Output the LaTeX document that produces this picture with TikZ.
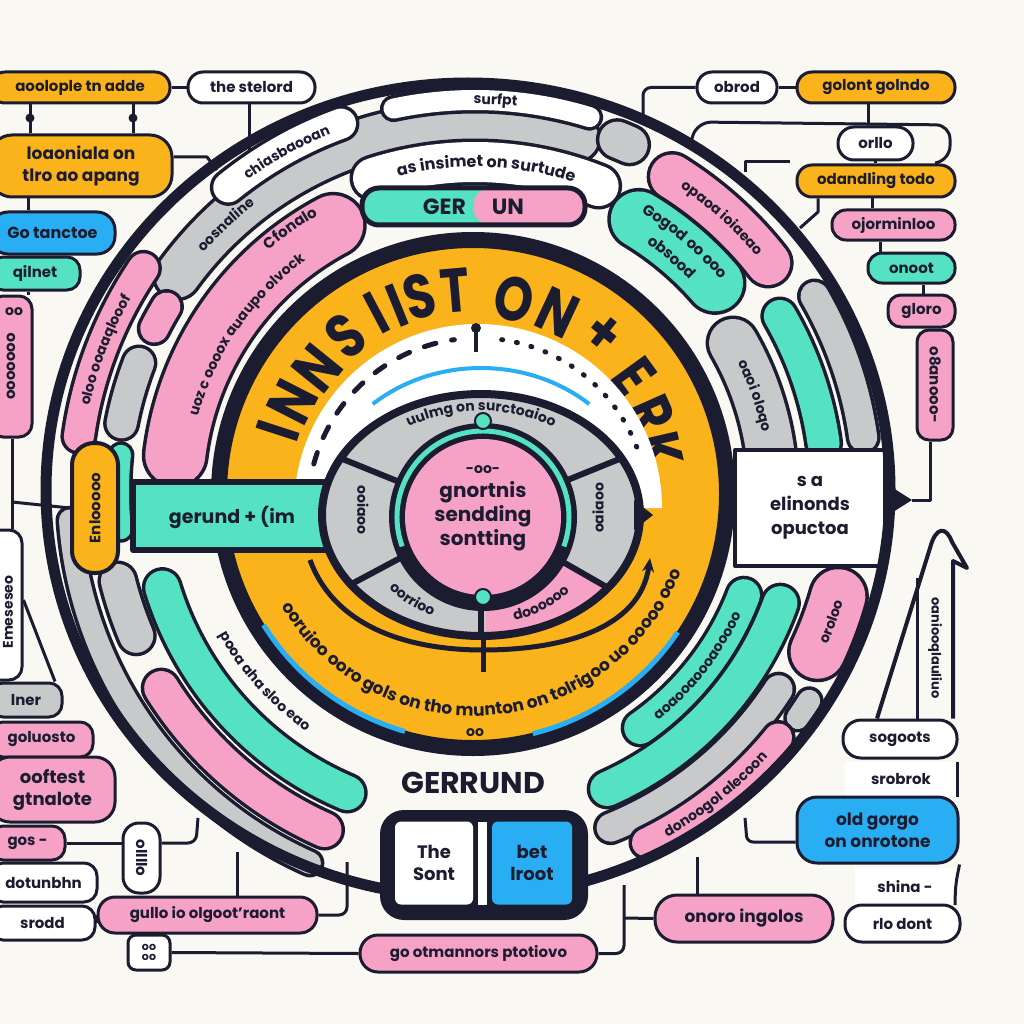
\documentclass[tikz,border=0pt]{standalone}
\usepackage{fontspec}
\setmainfont{Poppins}
\usetikzlibrary{decorations.text,arrows.meta}
\definecolor{ink}{HTML}{1B1C30}
\definecolor{yel}{HTML}{FBB31B}
\definecolor{pnk}{HTML}{F6A2C6}
\definecolor{tea}{HTML}{55E2C3}
\definecolor{blu}{HTML}{2AAEF3}
\definecolor{gry}{HTML}{C8C9CB}
\definecolor{bg}{HTML}{FAF8F2}
\newcommand\arcband[5]{%
  \draw[ink, line width={#4+7}, line cap=round] ([shift={(#1:#3)}]C) arc[start angle=#1, end angle=#2, radius=#3];%
  \draw[#5, line width=#4, line cap=round] ([shift={(#1:#3)}]C) arc[start angle=#1, end angle=#2, radius=#3];}
\tikzset{
  box/.style={draw=ink, line width=3pt, rounded corners=13pt, text=ink, align=center, inner sep=1pt, font=\bfseries\fontsize{15}{18}\selectfont},
  conn/.style={draw=ink, line width=3pt},
  atext/.style 2 args={decorate, decoration={text along path, text align=center, text color=ink, text={|\bfseries\fontsize{#2}{#2}\selectfont|#1}}},
  bigl/.style={text=ink, inner sep=0pt, font=\bfseries\fontsize{62}{62}\selectfont},
  lbl/.style={text=ink, inner sep=0pt, font=\bfseries\fontsize{14}{16}\selectfont},
}
\begin{document}
\begin{tikzpicture}[x=1pt, y=-1pt, line join=round]
\useasboundingbox (0,0) rectangle (1024,1024);
\fill[bg] (0,0) rectangle (1024,1024);
\coordinate (C) at (475,492);
\coordinate (C0) at (473,494);
\coordinate (F) at (481,515);
\coordinate (P) at (483,517);
\coordinate (W) at (478,508);
\coordinate (E) at (468,490);

% ---------- ring bands ----------
\arcband{216}{286}{368}{44}{gry}
\arcband{258}{287}{392}{20}{white}
\arcband{252}{292}{330}{40}{white}
\arcband{187}{242}{302}{60}{pnk}
\arcband{191}{201}{360}{30}{gry}
\arcband{207}{211}{360}{28}{pnk}
\arcband{188}{214}{400}{30}{pnk}
\arcband{174}{186}{356}{20}{tea}
\arcband{114}{176}{406}{22}{gry}
\arcband{157}{166}{368}{34}{gry}
\arcband{114}{148}{370}{34}{pnk}
\arcband{113}{163}{327}{34}{tea}
\arcband{302}{322}{372}{44}{pnk}
\arcband{292}{294}{380}{36}{gry}
\arcband{301}{319}{318}{56}{tea}
\arcband{330}{352}{298}{48}{gry}
\arcband{330}{352}{352}{32}{tea}
\arcband{330}{352}{392}{28}{gry}
\arcband{16}{25}{378}{54}{pnk}
\arcband{21}{55}{288}{32}{tea}
\arcband{20}{66}{325}{34}{tea}
\arcband{33}{68}{362}{28}{gry}
\arcband{32}{35}{394}{22}{gry}
\arcband{39}{64}{390}{28}{pnk}

% ---------- ring texts ----------
\path[atext={oloo ooaaqlooof}{14}] ([shift={(188:395)}]C) arc[start angle=188, end angle=214, radius=395];
\path[atext={oosnaline}{14}] ([shift={(216:362)}]C) arc[start angle=216, end angle=238, radius=362];
\path[atext={Cfonalo}{15}] ([shift={(226:318)}]C) arc[start angle=226, end angle=244, radius=318];
\path[atext={uoz c oooox auaupo olvock}{14}] ([shift={(189:287)}]C) arc[start angle=189, end angle=240, radius=287];
\path[atext={as insimet on surtude}{16}] ([shift={(250:325)}]C) arc[start angle=250, end angle=294, radius=325];
\path[atext={surfpt}{14}] ([shift={(262:388)}]C) arc[start angle=262, end angle=284, radius=388];
\path[atext={opaoa ioiaeao}{14}] ([shift={(299:367)}]C) arc[start angle=299, end angle=325, radius=367];
\path[atext={Gogod oo ooo}{15}] ([shift={(297:325)}]C) arc[start angle=297, end angle=323, radius=325];
\path[atext={obsood}{15}] ([shift={(297:302)}]C) arc[start angle=297, end angle=323, radius=302];
\path[atext={oaoi oloqo}{14}] ([shift={(326:293)}]C) arc[start angle=326, end angle=356, radius=293];
\path[atext={oroloo}{14}] ([shift={(30:384)}]C) arc[start angle=30, end angle=10, radius=384];
\path[atext={aoaooaoooaooooo}{14}] ([shift={(60:293)}]C) arc[start angle=60, end angle=16, radius=293];
\path[atext={donoogol alecoon}{14}] ([shift={(70:395)}]C) arc[start angle=70, end angle=33, radius=395];
\path[atext={pooa aha sloo eao}{14}] ([shift={(166:293)}]C) arc[start angle=166, end angle=110, radius=293];

% ---------- left pill ----------
\node[box, fill=yel, line width=4pt, rounded corners=22pt, minimum width=46, minimum height=130] (enl) at (95,508) {\rotatebox{90}{Enlooooo}};

% ---------- right white box ----------
\node[draw=ink, line width=4pt, fill=white, minimum width=150, minimum height=116, align=center, text=ink, font=\bfseries\fontsize{18}{24}\selectfont] (m16) at (810,508) {s a\\elinonds\\opuctoa};

% ---------- outer ring ----------
\draw[ink, line width=11] (E) ellipse[x radius=422, y radius=407];
\arcband{231}{250}{392}{30}{white}
\path[atext={chiasbaooan}{14}] ([shift={(229:386)}]C) arc[start angle=229, end angle=253, radius=386];

% ---------- GER | UN ----------
\node[draw=ink, line width=5pt, rounded corners=17pt, minimum width=223, minimum height=37, fill=tea, text=ink, font=\bfseries\fontsize{22}{22}\selectfont, path picture={\fill[pnk] (path picture bounding box.north) rectangle (path picture bounding box.south east);}] (gerun) at (473.5,206.5) {GER\hspace{26pt}UN};

% ---------- yellow disk ----------
\draw[ink, line width=16, fill=yel] (C0) circle[radius=254];
\draw[blu, line width=5] ([shift={(106:247)}]C0) arc[start angle=106, end angle=148, radius=247];
\draw[blu, line width=5] ([shift={(34:247)}]C0) arc[start angle=34, end angle=76, radius=247];
\foreach \ch/\ang/\rr [count=\i] in {I/198/205, N/207/202, N/219/200, S/231/203, I/242/205, I/248/203, S/255/205, T/265/204, O/282/199, N/295/200, +/309/205, E/324/199, R/336/195, K/347/192}
  \node[bigl, rotate=-\ang-90] (L\i) at ([shift={(\ang:\rr)}]C0) {\scalebox{0.8}[1]{\ch}};
\path[atext={ooruioo ooro gols on tho munton on tolrigoo uo ooooo ooo}{17}] ([shift={(168:222)}]C0) arc[start angle=168, end angle=2, radius=222];
\node[lbl] (oo1) at (475,733) {oo};

% white horseshoe
\fill[white] (W) -- ([shift={(186:184)}]W) arc[start angle=186, end angle=360, radius=184] -- cycle;
\draw[ink, line width=5, dash pattern=on 12pt off 16pt, line cap=round] ([shift={(195:170)}]W) arc[start angle=195, end angle=262, radius=170];
\draw[ink, line width=5, dash pattern=on 1pt off 14pt, line cap=round] ([shift={(278:170)}]W) arc[start angle=278, end angle=340, radius=170];
\draw[ink, line width=4] (476,326) -- (476,352);
\fill[ink] (476,328) circle[radius=5];
\draw[blu, line width=4] ([shift={(229:165 and 147)}]F) arc[start angle=229, end angle=311, x radius=165, y radius=147];

% teal arm reaching the flower
\draw[ink, line width=6, fill=tea] (133,482) -- (345,482) -- (345,550) -- (133,550) -- cycle;
\node[text=ink, font=\bfseries\fontsize{19}{19}\selectfont] (gtx) at (232,517) {gerund + (im};

% branch lines
\draw[ink, line width=5] (483,606) -- (483,672);
\draw[ink, line width=5] (310,560) .. controls (335,628) and (410,650) .. (483,650);
\draw[ink, line width=5, -{Stealth[length=14pt, width=12pt]}] (483,650) .. controls (560,650) and (640,630) .. (650,558);

% ---------- gray flower ----------
\fill[gry] (F) ellipse[x radius=159, y radius=121];
\fill[pnk] (F) -- ([shift={(38:159 and 121)}]F) arc[start angle=38, end angle=88, x radius=159, y radius=121] -- cycle;
\foreach \a in {208,332,145,37,90} \draw[ink, line width=6] (F) -- ([shift={(\a:159 and 121)}]F);
\draw[ink, line width=8] (F) ellipse[x radius=159, y radius=121];
\fill[ink] (P) circle[radius=94];
\draw[tea, line width=5] ([shift={(160:86)}]P) arc[start angle=160, end angle=380, radius=86];
\fill[pnk] (P) circle[radius=78];
\draw[ink, line width=2, fill=tea] (483,421) circle[radius=8];
\draw[ink, line width=2, fill=tea] (483,597) circle[radius=8];
\fill[ink] (634,500) -- (653,515) -- (634,530) -- cycle;
\path[atext={uulmg on surctoaioo}{14}] ([shift={(212:136 and 104)}]F) arc[start angle=212, end angle=328, x radius=136, y radius=104];
\path[atext={oorrioo}{14}] ([shift={(152:124 and 110)}]F) arc[start angle=152, end angle=100, x radius=124, y radius=110];
\path[atext={doooooo}{14}] ([shift={(82:124 and 110)}]F) arc[start angle=82, end angle=36, x radius=124, y radius=110];
\node[lbl, rotate=-90] (lobeL) at (363,510) {ooiaoo};
\node[lbl, rotate=90] (lobeR) at (598,508) {oaiaoo};
\node[text=ink, align=center, font=\bfseries\fontsize{20}{24}\selectfont] (ctx) at (483,508) {{\fontsize{14}{14}\selectfont -oo-}\\gnortnis\\sendding\\sontting};

% ---------- GERRUND ----------
\node[text=ink, font=\bfseries\fontsize{30}{30}\selectfont] (gt) at (473,783) {GERRUND};
\node[fill=ink, rounded corners=24pt, minimum width=208, minimum height=110] (gbox) at (484,865) {};
\node[fill=white, rounded corners=6pt, minimum width=78, minimum height=83, align=center, text=ink, font=\bfseries\fontsize{18}{22}\selectfont] (gl) at (434,863) {The\\Sont};
\node[fill=blu, rounded corners=6pt, minimum width=80, minimum height=83, align=center, text=ink, font=\bfseries\fontsize{18}{22}\selectfont] (gr) at (532,863) {bet\\lroot};
\fill[white] (478,822) rectangle (487,905);

% ---------- left column ----------
\coordinate (k2) at (249,150);
\coordinate (k3) at (217,170);
\coordinate (j1) at (12,502);
\coordinate (k14) at (198,818);
\coordinate (k15) at (237,852);
\coordinate (k15b) at (347,862);
\coordinate (k17) at (624,885);
\coordinate (j2) at (624,918);
\node[box, fill=yel, minimum width=180, minimum height=31, rounded corners=15pt] (n1) at (80,87.5) {aoolople tn adde};
\node[box, fill=white, minimum width=127, minimum height=31, rounded corners=15pt] (n2) at (251.5,87.5) {the stelord};
\node[box, fill=yel, minimum width=182, minimum height=62, rounded corners=22pt, font=\bfseries\fontsize{17}{22}\selectfont] (n3) at (81,166) {loaoniala on\\tlro ao apang};
\node[box, fill=blu, minimum width=125, minimum height=42, rounded corners=18pt, font=\bfseries\fontsize{16}{18}\selectfont] (n4) at (52.5,233) {Go tanctoe};
\node[box, fill=tea, minimum width=90, minimum height=33] (n5) at (35,273.5) {qilnet};
\node[box, fill=pnk, minimum width=42, minimum height=141] (n6) at (11,366.5) {\rotatebox{90}{ooooooo}};
\node[lbl] (n6o) at (14,312) {oo};
\node[box, fill=white, minimum width=44, minimum height=150] (n7) at (0,605) {};
\node[lbl, rotate=90] (n7t) at (8,612) {Emeseseo};
\node[box, fill=gry, minimum width=72, minimum height=34] (n8) at (26,700) {lner};
\node[box, fill=pnk, minimum width=103, minimum height=35] (n9) at (41.5,739.5) {goluosto};
\node[box, fill=pnk, minimum width=125, minimum height=65, rounded corners=20pt, font=\bfseries\fontsize{18}{22}\selectfont] (n10) at (52.5,789.5) {ooftest\\gtnalote};
\node[box, fill=pnk, minimum width=75, minimum height=34] (n11) at (27.5,843) {gos -};
\node[box, fill=white, minimum width=107, minimum height=39] (n12) at (43.5,882.5) {dotunbhn};
\node[box, fill=white, minimum width=105, minimum height=34] (n13) at (42.5,923) {srodd};
\node[box, fill=white, minimum width=37, minimum height=70, rounded corners=16pt] (n14) at (141.5,858) {\rotatebox{-90}{ollllo}};
\node[box, fill=pnk, minimum width=219, minimum height=36, rounded corners=17pt] (n15) at (207.5,915) {gullo io olgoot'raont};
\node[box, fill=white, minimum width=42, minimum height=35, rounded corners=8pt, font=\bfseries\fontsize{11}{10}\selectfont] (n16) at (149,952.5) {oo\\oo};
\node[box, fill=pnk, minimum width=237, minimum height=37, rounded corners=18pt] (n17) at (478.5,953.5) {go otmannors ptotiovo};

\draw[conn] (n1) -- (n2);
\draw[conn] (n1.south -| 30,0) -- (n3.north -| 30,0);
\draw[conn] (n1.south -| 133,0) -- (n3.north -| 133,0);
\fill[ink] (30,118) circle[radius=4.5];
\fill[ink] (133,118) circle[radius=4.5];
\draw[conn] (n2.south -| 249,0) -- (k2);
\draw[conn] (n3.east |- 0,157) -- (207,157) -- (k3);
\draw[conn] (n3.south -| 28,0) -- (n4.north -| 28,0);
\draw[conn] (n5.south -| 28,0) -- (n6.north -| 28,0);
\draw[conn] (n6.south -| 12,0) -- (n7.north -| 12,0);
\draw[conn] (j1) -- (enl.west);
\draw[conn] (n7.east |- 0,600) -- (n8.north -| 55,0);
\draw[conn] (n11.east) -- (n11.east -| n14.west);
\draw[conn, rounded corners=8pt] (n14.east |- 0,843) -- (196,843) -- (k14);
\draw[conn] (n13.east) -- (n15.west);
\draw[conn] (n15.north -| 237,0) -- (k15);
\draw[conn, rounded corners=8pt] (n15.east) -- (347,915) -- (k15b);
\draw[conn] (n16.east) -- (n17.west);
\draw[conn, rounded corners=8pt] (n17.east) -- (624,953.5) -- (k17);

% ---------- right column ----------
\coordinate (k1) at (643,117);
\coordinate (kL) at (690,145);
\coordinate (kS) at (745,172);
\coordinate (kS2) at (790,162);
\coordinate (k4) at (800,228);
\coordinate (k11) at (745,818);
\coordinate (k14b) at (697,857);
\coordinate (t1) at (912,500);
\draw[conn, rounded corners=14pt] (kL) -- (697,122) -- (950,125) -- (950,160) -- (935,163);
\node[box, fill=white, minimum width=80, minimum height=31, rounded corners=15pt] (m1) at (737,87.5) {obrod};
\node[box, fill=yel, minimum width=158, minimum height=31, rounded corners=15pt] (m2) at (876,87.5) {golont golndo};
\node[box, fill=white, minimum width=75, minimum height=33, rounded corners=16pt] (m3) at (875.5,143.5) {orllo};
\node[box, fill=yel, minimum width=158, minimum height=32, rounded corners=15pt] (m4) at (876,181) {odandling todo};
\node[box, fill=pnk, minimum width=123, minimum height=30, rounded corners=14pt] (m5) at (893.5,225) {ojorminloo};
\node[box, fill=tea, minimum width=87, minimum height=30, rounded corners=14pt] (m6) at (911.5,268) {onoot};
\node[box, fill=pnk, minimum width=67, minimum height=32] (m7) at (921.5,311) {gloro};
\node[box, fill=pnk, minimum width=36, minimum height=110, rounded corners=12pt] (m8) at (935,385) {\rotatebox{-90}{o8anooo-}};
\draw[conn] (m1) -- (m2);
\draw[conn, rounded corners=8pt] (m1.west) -- (643,87.5) -- (k1);
\draw[conn] (m2.south -| 868,0) -- (m3.north -| 868,0);
\draw[conn] (m3.south -| 875,0) -- (m4.north -| 875,0);
\draw[conn] (m4.south -| 872,0) -- (m5.north -| 872,0);
\draw[conn] (m5.south -| 880,0) -- (m6.north -| 880,0);
\draw[conn] (m6.south -| 923,0) -- (m7.north -| 923,0);
\draw[conn] (kS) |- (kS2);
\draw[conn] (m4.south -| 818,0) -- (818,212) -- (k4);
\fill[ink] (893,488) -- (t1) -- (893,512) -- cycle;
\draw[conn] (t1) -- (930,500) -- (m8.south -| 930,0);

\node[box, fill=white, minimum width=114, minimum height=38, rounded corners=18pt] (m9) at (900,739) {sogoots};
\node[fill=white, text=ink, font=\bfseries\fontsize{15}{18}\selectfont, minimum width=112, minimum height=35] (m10) at (901,779.5) {srobrok};
\node[box, fill=blu, minimum width=161, minimum height=66, rounded corners=20pt, font=\bfseries\fontsize{17}{22}\selectfont] (m11) at (877.5,830) {old gorgo\\on onrotone};
\node[fill=white, text=ink, font=\bfseries\fontsize{15}{18}\selectfont, minimum width=100, minimum height=37] (m12) at (905,886.5) {shina -};
\node[box, fill=white, minimum width=115, minimum height=37, rounded corners=17pt] (m13) at (902.5,923.5) {rlo dont};
\node[box, fill=pnk, minimum width=178, minimum height=47, rounded corners=22pt, font=\bfseries\fontsize{17}{20}\selectfont] (m14) at (744,918.5) {onoro ingolos};
\draw[conn, rounded corners=8pt] (m10.north east) -- (m10.south east);
\draw[conn, rounded corners=10pt] (m11.south east) -- (m12.east) -- (m12.south east);
\draw[conn, rounded corners=6pt] (m11.west |- 0,842) -- (747,842) -- (k11);
\draw[conn] (m14.west) -- (j2);
\draw[conn] (m14.north -| 697,0) -- (k14b);
\draw[conn, line width=4pt] (m9.north -| 877,0) -- (930,548) .. controls (936,526) and (946,526) .. (952,542) -- (967,568) -- (953,561) -- (m9.north -| 953,0);
\draw[conn] (m9.north -| 917,0) -- (917,578);
\node[lbl, rotate=-90, font=\bfseries\fontsize{13}{14}\selectfont] (arrt) at (935,648) {oaniooqlauliuo};
\end{tikzpicture}
\end{document}
